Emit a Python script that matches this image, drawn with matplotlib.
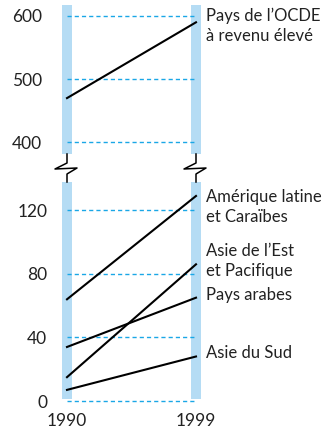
import matplotlib
matplotlib.use("Agg")
import matplotlib.pyplot as plt
from matplotlib.lines import Line2D

plt.rcParams['font.family'] = ['Lato', 'DejaVu Sans']

years = [1990, 1999]

# upper panel (OECD)
top_labels = ["Pays de l\u2019OCDE\n\u00e0 revenu \u00e9lev\u00e9"]
top_values = [[470, 590]]
top_ticks = [400, 500, 600]

# lower panel (developing regions)
low_labels = ["Am\u00e9rique latine\net Cara\u00efbes",
              "Asie de l\u2019Est\net Pacifique",
              "Pays arabes",
              "Asie du Sud"]
low_values = [[64, 129],
              [15, 86],
              [34, 65],
              [7, 28]]
low_ticks = [0, 40, 80, 120]

# y-positions for the labels on the right (data units)
top_label_y = [584]
low_label_y = [122, 88, 66.5, 30]

W, H = 329, 433
fig = plt.figure(figsize=(W / 100, H / 100), dpi=100)

BAR = '#b5dcf4'
GRID = '#1aa7e6'
TXT = '#222222'
FS = 12.5
x0, x1 = 52.67 / W, 210.33 / W

ax_top = fig.add_axes([x0, 274.9 / H, x1 - x0, (432.8 - 274.9) / H])
ax_low = fig.add_axes([x0, 16.1 / H, x1 - x0, (270.4 - 16.1) / H])
ax_top.set_ylim(375, 625)
ax_low.set_ylim(-10, 150)


def setup(ax, ticks, bar_range, pad):
    ax.set_xlim(1989, 2000)
    for s in ax.spines.values():
        s.set_visible(False)
    ax.patch.set_alpha(0)
    ax.set_xticks([])
    ax.set_yticks(ticks)
    ax.tick_params(axis='y', length=0, pad=pad, labelsize=FS, labelcolor=TXT)
    for yr in years:
        ax.bar(yr, bar_range[1] - bar_range[0], bottom=bar_range[0], width=0.75,
               color=BAR, zorder=1)
    for t in ticks:
        ax.plot(years, [t, t], color=GRID, lw=1, ls=(0, (3, 2.2)), zorder=2)


setup(ax_top, top_ticks, (381, 618), 7.5)
setup(ax_low, low_ticks, (1, 137.5), 3.8)

for vals in top_values:
    ax_top.plot(years, vals, color='black', lw=1.5, zorder=3)
for vals in low_values:
    ax_low.plot(years, vals, color='black', lw=1.5, zorder=3)

for lab, y in zip(top_labels, top_label_y):
    ax_top.text(1999.7, y, lab, ha='left', va='center', fontsize=12,
                color=TXT, linespacing=1.3)
for lab, y in zip(low_labels, low_label_y):
    ax_low.text(1999.7, y, lab, ha='left', va='center', fontsize=12,
                color=TXT, linespacing=1.3)

for yr in years:
    ax_low.text(yr, -12.5, str(yr), ha='center', va='center', fontsize=FS,
                color=TXT)

# axis-break marks between the two panels
for cx in (67, 196):
    xs = [cx, cx, cx - 12, cx + 10, cx, cx]
    ys = [154, 163, 169, 168, 174, 182]
    fig.add_artist(Line2D([x / W for x in xs], [1 - y / H for y in ys],
                          color='black', lw=1.1))

fig.savefig('out.png', dpi=100)
